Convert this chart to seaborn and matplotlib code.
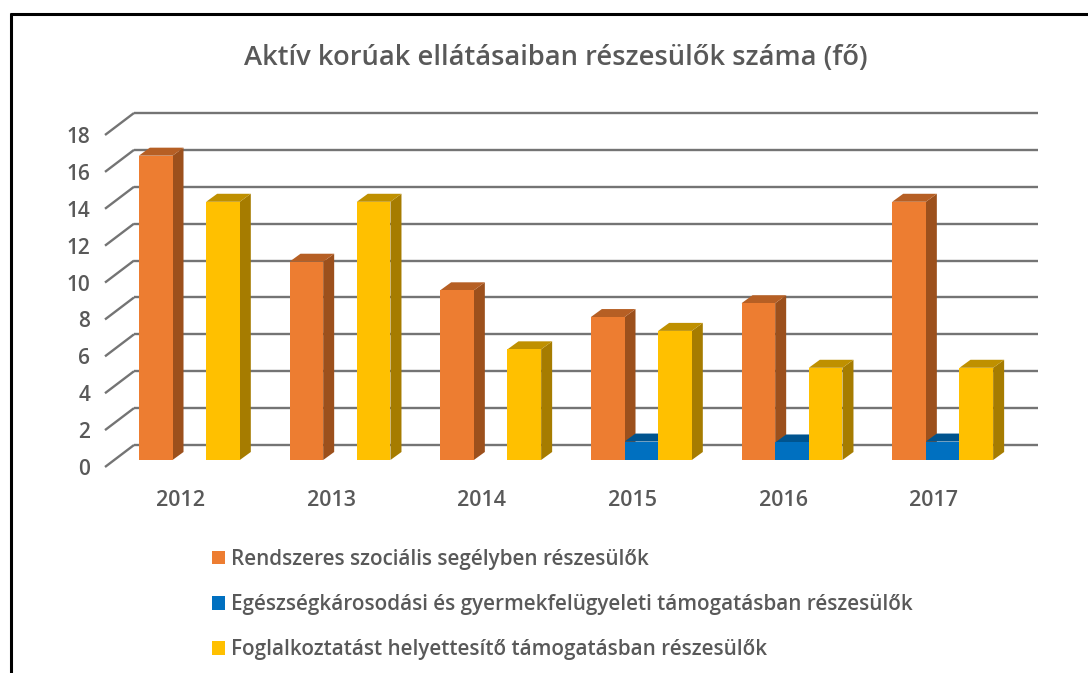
import pandas as pd
import seaborn as sns
import matplotlib.pyplot as plt
from matplotlib.patches import Polygon
from matplotlib.transforms import Affine2D

years = ["2012", "2013", "2014", "2015", "2016", "2017"]
rendszeres = [16.5, 10.75, 9.2, 7.75, 8.5, 14]
egeszseg = [0, 0, 0, 1, 0.95, 1]
foglalkoztatast = [14, 14, 6, 7, 5, 5]

names = ["Rendszeres szociális segélyben részesülők",
         "Egészségkárosodási és gyermekfelügyeleti támogatásban részesülők",
         "Foglalkoztatást helyettesítő támogatásban részesülők"]
front_colors = ["#ED7D31", "#0070C0", "#FFC000"]
top_colors = ["#B65F24", "#00548F", "#BF9000"]
side_colors = ["#9C501C", "#004A80", "#A67C00"]
grid_values = list(range(0, 20, 2))

W, H = 1088, 673
TEXT = "#595959"


def shift(ax, dx, dy):
    return ax.transData + Affine2D().translate(dx, dy)


def plot():
    sns.set_theme(style="white")
    plt.rcParams["font.family"] = ["Open Sans", "DejaVu Sans"]

    fig = plt.figure(figsize=(W / 100, H / 100), dpi=100)
    # axes box in pixels of the picture: bars start at y=460, 18 is at y=128
    ax = fig.add_axes([114 / W, 1 - 460 / H, 904 / W, 332 / H])

    df = pd.DataFrame({
        "ev": years * 3,
        "fo": rendszeres + egeszseg + foglalkoztatast,
        "sorozat": [n for n in names for _ in years],
    })
    sns.barplot(data=df, x="ev", y="fo", hue="sorozat", hue_order=names, palette=front_colors,
                saturation=1, width=0.67, gap=0, ax=ax, zorder=5, linewidth=0)
    ax.set_xlim(-0.5, 5.5)
    ax.set_ylim(0, 18)
    ax.set_xlabel("")
    ax.set_ylabel("")
    sns.despine(ax=ax, left=True, bottom=True)
    ax.patch.set_alpha(0)

    # depth of the bars, pixels turned into data units
    depth_x = 11 / (904 / 6)
    depth_y = 8 / (332 / 18)
    for i, cont in enumerate(ax.containers):
        for bar in cont:
            x0, x1 = bar.get_x(), bar.get_x() + bar.get_width()
            h = bar.get_height()
            if h == 0:
                continue
            ax.add_patch(Polygon([(x1, 0), (x1 + depth_x, depth_y), (x1 + depth_x, h + depth_y), (x1, h)],
                                 color=side_colors[i], lw=0, zorder=3 + i * 0.1, clip_on=False))
            ax.add_patch(Polygon([(x0, h), (x0 + depth_x, h + depth_y), (x1 + depth_x, h + depth_y), (x1, h)],
                                 color=top_colors[i], lw=0, zorder=3 + i * 0.1, clip_on=False))

    # back wall lines and the slanted lines on the side wall
    line = dict(color="#747474", lw=1.7, clip_on=False, zorder=1, solid_capstyle="butt")
    back = shift(ax, 20, 15)
    for v in grid_values:
        ax.plot([-0.5, 5.5], [v, v], transform=back, **line)
    x_step = 29 / (904 / 6)
    y_step = 22 / (332 / 18)
    for v in grid_values:
        ax.plot([-0.5 + 20 / (904 / 6) - x_step, -0.5 + 20 / (904 / 6)], [v + 15 / (332 / 18) - y_step, v + 15 / (332 / 18)],
                transform=ax.transData, **line)

    ax.set_yticks(grid_values)
    ax.tick_params(axis="y", length=0, pad=17, labelsize=15, labelcolor=TEXT)
    ax.tick_params(axis="x", length=0, pad=21.5, labelsize=15.5, labelcolor=TEXT)
    for t in ax.get_yticklabels():
        t.set_transform(t.get_transform() + Affine2D().translate(0, -7))
        t.set_fontweight("semibold")
    for t in ax.get_xticklabels():
        t.set_transform(t.get_transform() + Affine2D().translate(-9, 0))
        t.set_fontweight("semibold")

    fig.text(556 / W, 1 - 58 / H, "Aktív korúak ellátásaiban részesülők száma (fő)", ha="center", va="center",
             fontsize=19.7, color=TEXT, fontweight="semibold")

    handles, labels = ax.get_legend_handles_labels()
    ax.legend(handles, labels, loc="upper left", bbox_to_anchor=(212 / W, 1 - 549 / H), bbox_transform=fig.transFigure,
              frameon=False, labelcolor=TEXT, handlelength=0.62, handleheight=0.62, handletextpad=0.32,
              labelspacing=1.17, borderpad=0, borderaxespad=0, prop=dict(size=14.9, weight="semibold"))

    # black frame of the screenshot, open on the right
    frame = dict(color="black", lw=2.2, transform=fig.transFigure, solid_capstyle="butt")
    fig.add_artist(plt.Line2D([10.5 / W, 10.5 / W], [0, 1 - 13 / H], **frame))
    fig.add_artist(plt.Line2D([9.5 / W, 1], [1 - 13.5 / H, 1 - 13.5 / H], **frame))

    fig.savefig("out.png", dpi=100)


if __name__ == '__main__':
    plot()
